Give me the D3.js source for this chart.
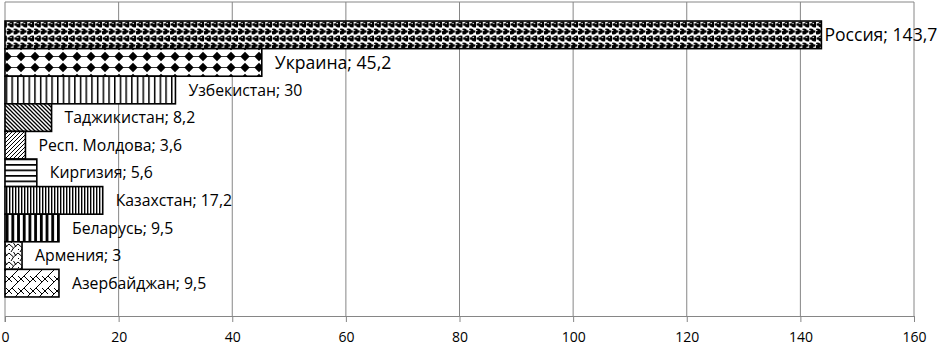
<!DOCTYPE html>
<html><head><meta charset="utf-8">
<script src="https://cdn.jsdelivr.net/npm/d3@7"></script>
<style>
body{margin:0;background:#fff;}
text{font-family:"Open Sans","Noto Sans",sans-serif;}
</style></head>
<body><svg id="c" width="939" height="346"></svg>
<script>
const countries = ["Россия","Украина","Узбекистан","Таджикистан","Респ. Молдова","Киргизия","Казахстан","Беларусь","Армения","Азербайджан"];
const values = [143.7,45.2,30,8.2,3.6,5.6,17.2,9.5,3,9.5];
const patternIds = ["sphere","diamond","vlines","dndiag","updiag","hlines","dvlines","thickv","zigzag","shingle"];
const xTicks = [0,20,40,60,80,100,120,140,160];

(function(){
const svg = d3.select("#c");
const W=939,H=346;
svg.append("rect").attr("width",W).attr("height",H).attr("fill","#fff");
const x = d3.scaleLinear().domain([0,160]).range([5,914]);
const pTop=2,pBottom=316;
const y = d3.scaleBand().domain(countries).range([pTop,pBottom]).paddingInner(0).paddingOuter(0.69);

const defs = svg.append("defs");
function pat(id,w,h,draw,py){
  const p = defs.append("pattern").attr("id",id).attr("patternUnits","userSpaceOnUse").attr("width",w).attr("height",h).attr("x",0).attr("y",py||0);
  p.append("rect").attr("width",w).attr("height",h).attr("fill","#fff");
  draw(p);
}
pat("sphere",6.8,14,p=>{
  [[1.7,3.5],[5.1,10.5]].forEach(([cx,cy])=>{
    p.append("circle").attr("cx",cx).attr("cy",cy).attr("r",3).attr("fill","#000");
    p.append("circle").attr("cx",cx-1).attr("cy",cy-1).attr("r",0.7).attr("fill","#fff");
  });
  [[5.1,3.5],[1.7,10.5]].forEach(([cx,cy])=>{
    p.append("rect").attr("x",cx-1.1).attr("y",cy-1.1).attr("width",2.2).attr("height",2.2).attr("fill","#000");
  });
},0);
pat("diamond",14,11,p=>{
  p.append("path").attr("d","M7,0.8 L11.7,5.5 L7,10.2 L2.3,5.5Z").attr("fill","#000");
  p.append("line").attr("x1",0).attr("x2",14).attr("y1",5.5).attr("y2",5.5).attr("stroke","#000").attr("stroke-width",0.8);
},51);
pat("vlines",5.7,10,p=>{
  p.append("rect").attr("x",0).attr("width",1.5).attr("height",10).attr("fill","#000");
});
pat("dndiag",4,4,p=>{
  p.append("path").attr("d","M-1,-1 L5,5 M-1,3 L1,5 M3,-1 L5,1").attr("stroke","#000").attr("stroke-width",1.3);
});
pat("updiag",4,4,p=>{
  p.append("path").attr("d","M-1,5 L5,-1 M-1,1 L1,-1 M3,5 L5,3").attr("stroke","#000").attr("stroke-width",1);
});
pat("hlines",10,5.5,p=>{
  p.append("rect").attr("y",0).attr("width",10).attr("height",1.7).attr("fill","#000");
},158.5);
pat("dvlines",3,10,p=>{
  p.append("rect").attr("x",0).attr("width",1.4).attr("height",10).attr("fill","#000");
});
pat("thickv",5.7,10,p=>{
  p.append("rect").attr("x",0).attr("width",2.8).attr("height",10).attr("fill","#000");
});
pat("zigzag",9,9,p=>{
  p.append("path").attr("d","M0,1 L4.5,5 L2,9 M9,1 L4.5,5 M4.5,0 L7,4 M-1,5 L1,7").attr("stroke","#000").attr("stroke-width",1).attr("fill","none");
});
pat("shingle",12,12,p=>{
  p.append("path").attr("d","M0,12 L12,0 M-6,6 L6,-6 M6,18 L18,6 M0,0 L6,6 M6,12 L9,15 M6,0 L12,6").attr("stroke","#000").attr("stroke-width",1).attr("fill","none");
});

svg.append("g").selectAll("line").data(xTicks.slice(1)).join("line")
  .attr("x1",d=>x(d)).attr("x2",d=>x(d)).attr("y1",pTop).attr("y2",pBottom)
  .attr("stroke","#868686").attr("stroke-width",1);
svg.append("line").attr("x1",x(0)).attr("x2",x(160)).attr("y1",pTop).attr("y2",pTop).attr("stroke","#868686");

const ax = svg.append("g").attr("transform",`translate(0,${pBottom})`)
  .call(d3.axisBottom(x).tickValues(xTicks).tickSize(6).tickSizeOuter(0).tickPadding(10));
ax.select(".domain").attr("stroke","#868686");
ax.selectAll(".tick line").attr("stroke","#868686");
ax.selectAll("text").attr("font-size",14).attr("fill","#000").style("font-family","'Open Sans', sans-serif");
svg.append("line").attr("x1",x(0)).attr("x2",x(0)).attr("y1",pTop).attr("y2",pBottom+6).attr("stroke","#868686");

svg.append("g").selectAll("rect").data(countries).join("rect")
  .attr("x",x(0)).attr("y",d=>y(d)).attr("width",(d,i)=>x(values[i])-x(0)).attr("height",y.bandwidth())
  .attr("fill",(d,i)=>`url(#${patternIds[i]})`).attr("stroke","#000").attr("stroke-width",1.6);

svg.append("g").selectAll("text").data(countries).join("text")
  .attr("x",(d,i)=>x(values[i])+(i===0?3:13))
  .attr("y",d=>y(d)+y.bandwidth()/2)
  .attr("dy","0.35em")
  .attr("font-size",(d,i)=>i<2?17.6:15.8)
  .attr("fill","#000")
  .text((d,i)=>`${d}; ${String(values[i]).replace(".",",")}`);
})();
</script></body></html>
